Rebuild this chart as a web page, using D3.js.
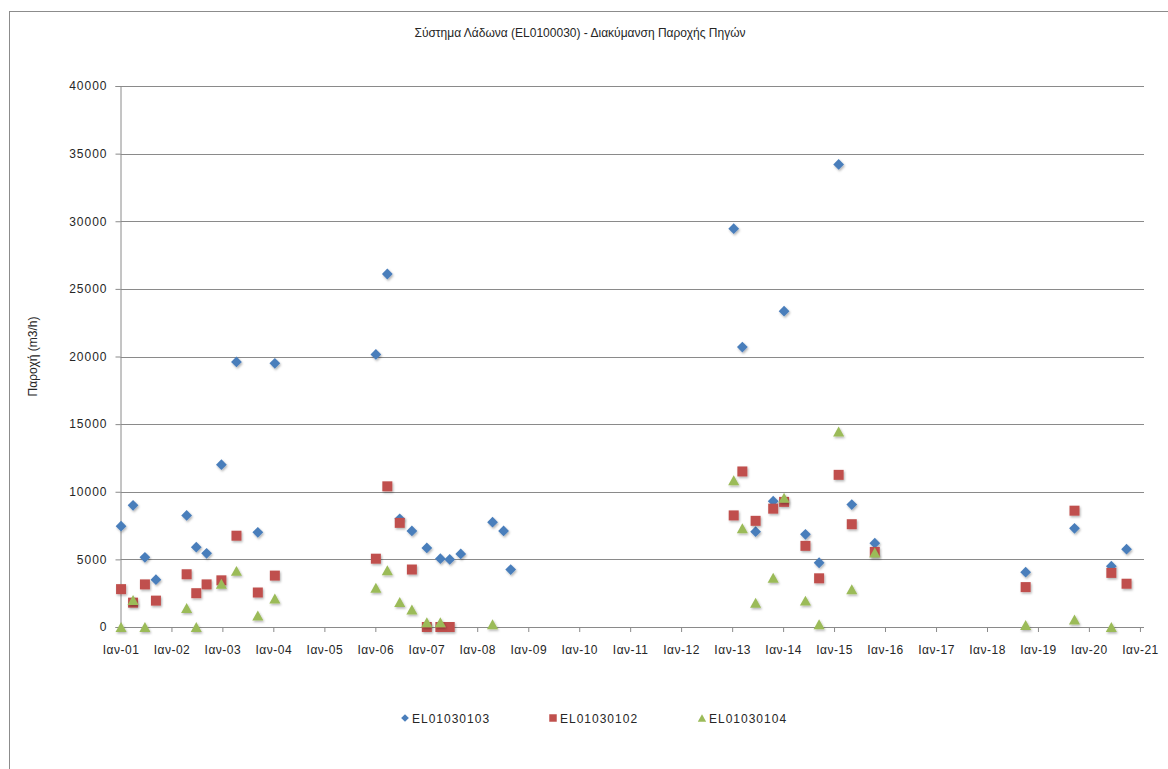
<!DOCTYPE html>
<html>
<head>
<meta charset="utf-8">
<script src="https://cdn.jsdelivr.net/npm/d3@7"></script>
<style>
  html, body { margin: 0; padding: 0; background: #ffffff; }
  svg { display: block; }
  text { font-family: "Liberation Sans", Arial, sans-serif; fill: #262626; }
</style>
</head>
<body>
<svg id="chart" width="1168" height="769"></svg>
<script>
// Sampling dates shared by the three springs (null = no measurement)
const sampleDates = [
  "2001-01-05", "2001-04-01", "2001-06-25", "2001-09-12",
  "2002-04-20", "2002-06-28", "2002-09-10", "2002-12-25",
  "2003-04-12", "2003-09-12", "2004-01-12",
  "2006-01-05", "2006-03-28", "2006-06-25", "2006-09-20",
  "2007-01-05", "2007-04-12", "2007-06-18", "2007-09-05",
  "2008-04-20", "2008-07-08", "2008-08-28",
  "2013-01-12", "2013-03-15", "2013-06-18", "2013-10-22",
  "2014-01-08", "2014-06-10", "2014-09-16",
  "2015-02-03", "2015-05-08", "2015-10-20",
  "2018-10-05", "2019-09-20", "2020-06-10", "2020-09-27"
];

// Discharge (m3/h) per spring
const el01030103 = [
  7450, 9000, 5150, 3500,
  8250, 5900, 5450, 12000,
  19600, 7000, 19500,
  20150, 26100, 8000, 7100,
  5850, 5050, 5000, 5400,
  7750, 7100, 4250,
  29450, 20700, 7050, 9300,
  23350, 6850, 4750,
  34200, 9050, 6200,
  4050, 7300, 4500, 5750
];
const el01030102 = [
  2800, 1800, 3150, 1950,
  3900, 2500, 3150, 3450,
  6750, 2550, 3800,
  5050, 10400, 7700, 4250,
  0, 0, 0, null,
  null, null, null,
  8250, 11500, 7850, 8750,
  9250, 6000, 3600,
  11250, 7600, 5550,
  2950, 8600, 4000, 3200
];
const el01030104 = [
  0, 2000, 0, null,
  1400, 0, null, 3200,
  4150, 850, 2100,
  2900, 4200, 1850, 1300,
  350, 350, null, null,
  200, null, null,
  10850, 7300, 1800, 3650,
  9550, 1950, 200,
  14450, 2800, 5500,
  150, 550, 0, null
];

const seriesNames = ["EL01030103", "EL01030102", "EL01030104"];
const seriesColors = ["#4a7ebb", "#c0504d", "#9bbb59"];
const yTicks = [0, 5000, 10000, 15000, 20000, 25000, 30000, 35000, 40000];
const xTickYears = d3.range(2001, 2022);
const monthLabel = "Ιαν";

const chartTitle = "Σύστημα Λάδωνα (EL0100030) - Διακύμανση Παροχής Πηγών";
const yTitle = "Παροχή (m3/h)";

// Marker shapes
const diamond = {
  draw(ctx, size) {
    const r = Math.sqrt(size / 2);
    ctx.moveTo(0, -r); ctx.lineTo(r, 0); ctx.lineTo(0, r); ctx.lineTo(-r, 0); ctx.closePath();
  }
};
const square = {
  draw(ctx, size) {
    const h = Math.sqrt(size) / 2;
    ctx.rect(-h, -h, 2 * h, 2 * h);
  }
};
const triangle = {
  draw(ctx, size) {
    const w = Math.sqrt(size * 2.2);
    const h = w * 0.9;
    ctx.moveTo(0, -h / 2); ctx.lineTo(w / 2, h / 2); ctx.lineTo(-w / 2, h / 2); ctx.closePath();
  }
};
const shapes = [diamond, square, triangle];
const markerSizes = [58, 100, 56];
const legendSizes = [30, 56, 32];

const parse = d3.timeParse("%Y-%m-%d");
const svg = d3.select("#chart");

// Drop shadow for the markers
const defs = svg.append("defs");
const f = defs.append("filter").attr("id", "shadow")
  .attr("x", "-50%").attr("y", "-50%").attr("width", "200%").attr("height", "200%");
f.append("feDropShadow").attr("dx", 1).attr("dy", 1.5)
  .attr("stdDeviation", 1).attr("flood-color", "#000").attr("flood-opacity", 0.3);

// Outer frame
svg.append("rect")
  .attr("x", 9.5).attr("y", 11.5).attr("width", 1200).attr("height", 800)
  .attr("fill", "none").attr("stroke", "#8c8c8c").attr("stroke-width", 1);

const plot = { left: 120.5, right: 1144, top: 86, bottom: 627 };

const x = d3.scaleTime()
  .domain([new Date(2001, 0, 1), new Date(2021, 0, 30)])
  .range([plot.left, plot.right]);
const y = d3.scaleLinear().domain([0, 40000]).range([plot.bottom, plot.top]);

// Horizontal gridlines
svg.append("g")
  .selectAll("line")
  .data(yTicks.filter(v => v > 0))
  .join("line")
  .attr("x1", plot.left).attr("x2", plot.right)
  .attr("y1", d => Math.round(y(d)) + 0.5).attr("y2", d => Math.round(y(d)) + 0.5)
  .attr("stroke", "#8a8a8a").attr("stroke-width", 1);

// Y axis
const yAxis = svg.append("g")
  .attr("transform", `translate(${plot.left},0)`)
  .call(d3.axisLeft(y).tickValues(yTicks).tickSize(5).tickPadding(8).tickFormat(d3.format("d")));
yAxis.select(".domain").attr("stroke", "#8a8a8a");
yAxis.selectAll(".tick line").attr("stroke", "#8a8a8a");
yAxis.selectAll(".tick text")
  .style("font-family", "'Liberation Sans', Arial, sans-serif")
  .style("font-size", "12px").style("letter-spacing", "1px")
  .attr("fill", "#262626");

// X axis
const xAxis = svg.append("g")
  .attr("transform", `translate(0,${plot.bottom})`)
  .call(d3.axisBottom(x)
    .tickValues(xTickYears.map(yr => new Date(yr, 0, 1)))
    .tickSize(5).tickPadding(13)
    .tickFormat(d => monthLabel + "-" + d3.timeFormat("%y")(d)));
xAxis.select(".domain").attr("stroke", "#8a8a8a").attr("d", `M${plot.left},0.5H${plot.right}`);
xAxis.selectAll(".tick line").attr("stroke", "#8a8a8a");
xAxis.selectAll(".tick text")
  .style("font-family", "'Liberation Sans', Arial, sans-serif")
  .style("font-size", "12px").style("letter-spacing", "0.5px")
  .attr("fill", "#262626");

// Title
svg.append("text")
  .attr("x", 580).attr("y", 37)
  .attr("text-anchor", "middle")
  .style("font-size", "12px")
  .text(chartTitle);

// Y axis title
svg.append("text")
  .attr("transform", `translate(37,${(plot.top + plot.bottom) / 2}) rotate(-90)`)
  .attr("text-anchor", "middle")
  .style("font-size", "12px")
  .text(yTitle);

// Points
const allSeries = [el01030103, el01030102, el01030104];
allSeries.forEach((vals, i) => {
  const pts = sampleDates
    .map((d, k) => ({ date: parse(d), value: vals[k] }))
    .filter(p => p.value !== null);
  svg.append("g")
    .attr("filter", "url(#shadow)")
    .selectAll("path")
    .data(pts)
    .join("path")
    .attr("transform", p => `translate(${x(p.date)},${y(p.value)})`)
    .attr("d", d3.symbol().type(shapes[i]).size(markerSizes[i])())
    .attr("fill", seriesColors[i]);
});

// Legend
const legendX = [405, 553, 702];
const legend = svg.append("g");
seriesNames.forEach((name, i) => {
  legend.append("path")
    .attr("transform", `translate(${legendX[i]},718)`)
    .attr("d", d3.symbol().type(shapes[i]).size(legendSizes[i])())
    .attr("fill", seriesColors[i]);
  legend.append("text")
    .attr("x", legendX[i] + 7).attr("y", 722.5)
    .style("font-size", "12px").style("letter-spacing", "1px")
    .text(name);
});
</script>
</body>
</html>
